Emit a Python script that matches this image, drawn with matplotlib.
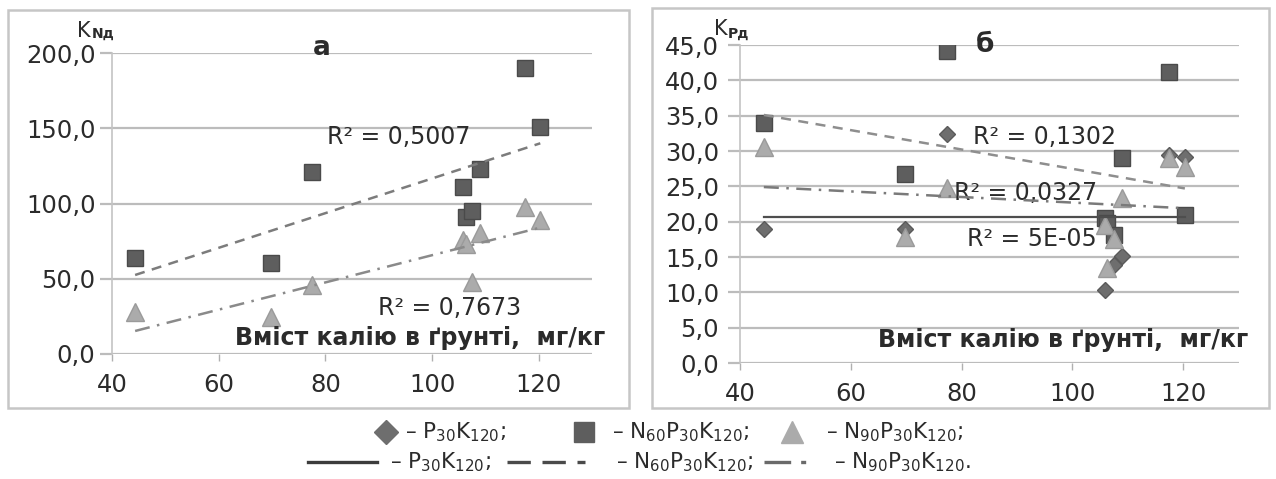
"""Коефіцієнти використання N і P залежно від вмісту калію в ґрунті."""

import matplotlib

matplotlib.use("Agg")
import matplotlib.pyplot as plt
from matplotlib.lines import Line2D
from matplotlib.patches import Rectangle
from matplotlib.ticker import FuncFormatter, MultipleLocator

plt.rcParams["font.family"] = ["DejaVu Sans"]
plt.rcParams["mathtext.fontset"] = "dejavusans"
plt.rcParams["mathtext.default"] = "regular"

W, H = 1276, 479

# Вміст калію в ґрунті, мг/кг (спільний для всіх серій)
soil_k = [44.3, 69.8, 77.4, 105.8, 106.3, 107.5, 108.9, 117.4, 120.3]

# Панель а: K_Nд
kna_n60 = [63.6, 60.3, 121.0, 111.2, 91.2, 95.3, 122.9, 189.8, 150.6]
kna_n90 = [28.0, 24.8, 45.8, 75.7, 72.8, 48.0, 80.2, 97.9, 89.0]

# Панель б: K_Pд
kpd_p30 = [19.0, 19.0, 32.4, 10.3, 20.5, 13.8, 15.1, 29.4, 29.2]
kpd_n60 = [33.9, 26.7, 44.2, 20.5, 19.8, 18.1, 29.0, 41.2, 21.0]
kpd_n90 = [30.6, 17.8, 24.7, 19.5, 13.4, 17.5, 23.3, 29.0, 27.8]

# Лінії тренду (значення на краях діапазону x)
trend_kna_n60 = [52.5, 140.0]
trend_kna_n90 = [15.3, 84.0]
trend_kpd_p30 = [20.7, 20.7]
trend_kpd_n60 = [35.1, 24.7]
trend_kpd_n90 = [24.9, 21.9]

r2_kna = ["R² = 0,5007", "R² = 0,7673"]
r2_kpd = ["R² = 0,1302", "R² = 0,0327", "R² = 5E-05"]

x_title = "Вміст калію в ґрунті,  мг/кг"
series_labels = [r"– P$_{30}$K$_{120}$;", r"– N$_{60}$P$_{30}$K$_{120}$;",
                 r"– N$_{90}$P$_{30}$K$_{120}$;", r"– N$_{90}$P$_{30}$K$_{120}$."]

C_DIAM = "#6e6e6e"
C_SQ = "#5e5e5e"
C_TRI = "#ababab"
C_GRID = "#bcbcbc"
C_TXT = "#2b2b2b"


def fx(x):
    return x / W


def fy(y):
    return 1 - y / H


def comma_fmt(v, _):
    return f"{v:.1f}".replace(".", ",")


def style_axes(ax, ymax, ystep, ypad):
    ax.set_xlim(40, 130)
    ax.set_ylim(0, ymax)
    ax.xaxis.set_major_locator(MultipleLocator(20))
    ax.yaxis.set_major_locator(MultipleLocator(ystep))
    ax.yaxis.set_major_formatter(FuncFormatter(comma_fmt))
    for side in ["top", "right", "bottom"]:
        ax.spines[side].set_visible(False)
    ax.spines["left"].set_color("#c4c4c4")
    ax.spines["left"].set_linewidth(1.2)
    ax.grid(axis="y", color=C_GRID, linewidth=1.6)
    ax.set_axisbelow(True)
    ax.tick_params(axis="x", length=5, width=1, color="#b0b0b0", pad=9,
                   labelsize=17.5, labelcolor=C_TXT)
    ax.tick_params(axis="y", length=9, width=1.6, color=C_GRID, pad=ypad,
                   labelsize=17.5, labelcolor=C_TXT)
    ax.set_facecolor("none")


fig = plt.figure(figsize=(W / 100, H / 100), dpi=100)

# Рамки панелей
fig.patches.append(Rectangle((fx(8), fy(408)), fx(621), 398 / H, transform=fig.transFigure,
                             fill=False, edgecolor="#c6c6c6", linewidth=1.8))
fig.patches.append(Rectangle((fx(652), fy(408)), fx(617), 400 / H, transform=fig.transFigure,
                             fill=False, edgecolor="#c6c6c6", linewidth=1.8))

trend_x = [min(soil_k), max(soil_k)]

# ---- Панель а ----
ax1 = fig.add_axes([fx(112.2), fy(354), fx(592 - 112.2), 301 / H])
style_axes(ax1, 200, 50, 3)
ax1.plot(soil_k, kna_n60, "s", ms=12, color=C_SQ, mec="#4a4a4a", zorder=3)
ax1.plot(soil_k, kna_n90, "^", ms=12.5, color=C_TRI, mec="#9a9a9a", zorder=3)
ax1.plot(trend_x, trend_kna_n60, color="#7c7c7c", lw=1.8, ls=(0, (4, 3)), zorder=4)
ax1.plot(trend_x, trend_kna_n90, color="#8a8a8a", lw=1.8, ls=(0, (6, 3, 1, 3)), zorder=4)
ax1.text(80.2, 144, r2_kna[0], fontsize=17, color=C_TXT, va="center")
ax1.text(89.8, 30.6, r2_kna[1], fontsize=17, color=C_TXT, va="center")
ax1.text(63, 10.6, x_title, fontsize=17, fontweight="bold", color=C_TXT,
         va="center", clip_on=False)
ax1.text(79.4, 203.3, "а", fontsize=19, fontweight="bold", color=C_TXT,
         ha="center", va="center", clip_on=False)
ax1.text(33.4, 210.6, "K", fontsize=15, color=C_TXT, va="baseline", clip_on=False)
ax1.text(36.2, 210.0, "Nд", fontsize=10, fontweight="bold", color=C_TXT,
         va="baseline", clip_on=False)

# ---- Панель б ----
ax2 = fig.add_axes([fx(740), fy(363), fx(1238.6 - 740), 318 / H])
style_axes(ax2, 45, 5, 6)
ax2.plot(soil_k, kpd_p30, "D", ms=8.5, color=C_DIAM, mec="#5a5a5a", zorder=3)
ax2.plot(soil_k, kpd_n60, "s", ms=12, color=C_SQ, mec="#4a4a4a", zorder=3)
ax2.plot(soil_k, kpd_n90, "^", ms=12.5, color=C_TRI, mec="#9a9a9a", zorder=3)
ax2.plot(trend_x, trend_kpd_n60, color="#8e8e8e", lw=1.8, ls=(0, (4, 3)), zorder=4)
ax2.plot(trend_x, trend_kpd_n90, color="#7a7a7a", lw=1.8, ls=(0, (6, 3, 1, 3)), zorder=4)
ax2.plot(trend_x, trend_kpd_p30, color="#4e4e4e", lw=1.6, zorder=4)
ax2.text(82, 32, r2_kpd[0], fontsize=17, color=C_TXT, va="center")
ax2.text(78.7, 24, r2_kpd[1], fontsize=17, color=C_TXT, va="center")
ax2.text(80.9, 17.5, r2_kpd[2], fontsize=17, color=C_TXT, va="center")
ax2.text(65, 3.25, x_title, fontsize=17, fontweight="bold", color=C_TXT,
         va="center", clip_on=False)
ax2.text(84.2, 45, "б", fontsize=19, fontweight="bold", color=C_TXT,
         ha="center", va="center", clip_on=False)
ax2.text(35.3, 46.4, "K", fontsize=15, color=C_TXT, va="baseline", clip_on=False)
ax2.text(37.8, 46.0, "Pд", fontsize=10, fontweight="bold", color=C_TXT,
         va="baseline", clip_on=False)

# ---- Легенда (два рядки під панелями) ----
row1, row2 = 432, 462
marker_keys = [("D", 12, C_DIAM, 386), ("s", 15, C_SQ, 584), ("^", 16, C_TRI, 792)]
for (mk, ms, col, xk), label, xt in zip(marker_keys, series_labels[:3], [405, 612, 826]):
    fig.add_artist(Line2D([fx(xk)], [fy(row1)], marker=mk, ms=ms, color=col,
                          transform=fig.transFigure))
    fig.text(fx(xt), fy(row1), label, fontsize=15.5, color=C_TXT, va="center")

line_keys = [("-", "#3c3c3c", 308, 377), ((0, (7, 3.5)), "#4a4a4a", 507, 585),
             ((0, (8, 3, 1.5, 3, 1.5, 3)), "#6a6a6a", 764, 810)]
for (ls, col, x0, x1), label, xt in zip(line_keys, [series_labels[0], series_labels[1],
                                                    series_labels[3]], [390, 616, 834]):
    fig.add_artist(Line2D([fx(x0), fx(x1)], [fy(row2), fy(row2)], ls=ls, lw=2.4,
                          color=col, transform=fig.transFigure))
    fig.text(fx(xt), fy(row2), label, fontsize=15.5, color=C_TXT, va="center")

fig.savefig("out.png", dpi=100)
